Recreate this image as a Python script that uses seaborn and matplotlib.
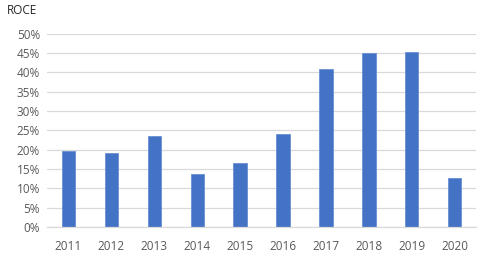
import matplotlib
matplotlib.use("Agg")
import matplotlib.pyplot as plt
import seaborn as sns
import pandas as pd
from matplotlib.ticker import FuncFormatter

years = ["2011", "2012", "2013", "2014", "2015", "2016", "2017", "2018", "2019", "2020"]
roce = [19.8, 19.2, 23.5, 13.8, 16.5, 24.1, 41.0, 45.0, 45.2, 12.6]

sns.set_theme(style="white")
plt.rcParams['font.family'] = ['Open Sans', 'DejaVu Sans']

df = pd.DataFrame({"year": years, "roce": roce})

fig = plt.figure(figsize=(4.8, 2.56), dpi=100)
ax = fig.add_axes([0.098, 0.113, 0.894, 0.755])
sns.barplot(data=df, x="year", y="roce", color="#4472C4", saturation=1,
            width=0.31, ax=ax, edgecolor="#6A8FD4", linewidth=0.6)

ax.set_ylim(0, 50)
ax.set_yticks(range(0, 51, 5))
ax.yaxis.set_major_formatter(FuncFormatter(lambda v, p: f"{int(v)}%"))
ax.grid(axis="y", color="#D9D9D9", linewidth=0.9)
ax.set_axisbelow(True)
for s in ["top", "right", "left"]:
    ax.spines[s].set_visible(False)
ax.spines["bottom"].set_color("#D9D9D9")
ax.spines["bottom"].set_linewidth(0.9)
ax.tick_params(axis="both", colors="#595959", labelsize=8.5, length=0, pad=5)
ax.tick_params(axis="x", pad=9)
ax.set_xlabel("")
ax.set_ylabel("")
ax.set_xlim(-0.5, 9.5)

fig.text(0.015, 0.96, "ROCE", fontsize=8.5, color="#262626", ha="left", va="center")

fig.savefig("out.png", dpi=100)
